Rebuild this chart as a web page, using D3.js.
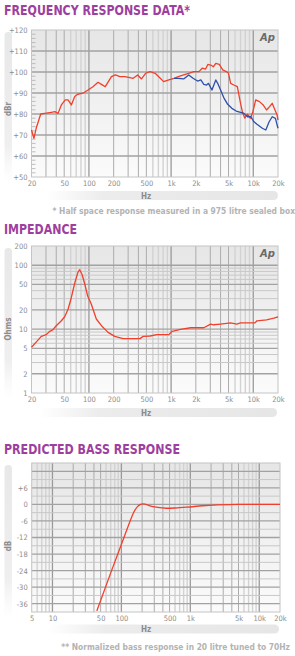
<!DOCTYPE html>
<html>
<head>
<meta charset="utf-8">
<script src="https://cdn.jsdelivr.net/npm/d3@7"></script>
<style>
  body { margin: 0; background: #fff; }
  svg text { font-family: "Liberation Sans Narrow", "DejaVu Sans Condensed", sans-serif; }
  .title { fill: #9d3f9e; font-weight: bold; font-size: 14px; }
  .note { fill: #b3b3b3; font-weight: bold; font-size: 8.4px; }
  .tick text { fill: #8c8c8c; font-size: 7.5px; }
  .logo { fill: #6a6a6a; font-weight: bold; font-style: italic; font-size: 10px; font-family: "DejaVu Sans", sans-serif; }
  .unit { fill: #8c8c8c; font-weight: bold; font-size: 8px; }
</style>
</head>
<body>
<svg id="page"></svg>
<script>
// ---- frequency response (dBr) ----
const respHz = [20, 21.4, 22.8, 25.9, 29, 34.9, 38.5, 42.1, 46.2, 51.5, 55.7, 61.1, 67.2, 73, 84.6, 97.5,
  112, 129, 142, 158, 188, 210, 238, 274, 315, 346, 392, 436, 490, 554, 640, 738, 812, 938, 1085, 1225,
  1420, 1640, 1890, 2180, 2390, 2630, 2800, 3030, 3270, 3500, 3860, 4250, 4700, 5000, 5300, 5800, 6400,
  7000, 7400, 7900, 8500, 9200, 9900, 10700, 11900, 13200, 14500, 15800, 17000, 18000, 19500, 20000];
const respRed = [72.4, 68.4, 73.2, 80, 80.3, 80.8, 81.1, 80.3, 84.3, 86.7, 86.7, 84.3, 88.3, 89.4, 89.9, 91.4,
  93, 95.1, 94.1, 93, 97.8, 98.6, 97.8, 97.8, 97.3, 97, 98.6, 96.7, 99.4, 100.2, 99.4, 97, 95.4, 96.2, 97, 97.8,
  98.6, 99.4, 100.2, 100.2, 101.8, 101.4, 103.6, 103.3, 102.5, 104.1, 103.6, 101, 100.2, 99.4, 94.6, 93.8, 93,
  85.1, 80.8, 78, 79.9, 78, 81.1, 86.7, 85.9, 84.3, 81.9, 83.5, 85.1, 82.7, 79.5, 77.1];
const blueHz = [1085, 1225, 1420, 1640, 1850, 2100, 2300, 2500, 2700, 2850, 3140, 3500, 3690, 4000, 4370,
  4880, 5490, 6200, 7000, 7700, 8500, 9300, 10200, 11100, 12900, 14200, 15600, 17000, 18600, 20000];
const respBlue = [97, 97, 96.7, 98.6, 97, 95.7, 96.2, 94.1, 93.8, 94.6, 91.4, 96.2, 94.6, 91.4, 87.8,
  84.6, 82.7, 81.4, 80.8, 80.3, 78.7, 78.7, 76.3, 75.1, 73.2, 72.4, 76.3, 78.7, 77.9, 73.2];
const respYTicks = [120, 110, 100, 90, 80, 70, 60, 50];

// ---- impedance (ohms) ----
const impHz = [20, 22.8, 26.3, 30.3, 33.3, 36.3, 40, 46.2, 50.7, 55.7, 61, 67.2, 73.6, 77.3, 82.7, 89.3, 96.5,
  107, 123, 142, 171, 206, 261, 330, 417, 458, 556, 670, 938, 1030, 1300, 1730, 2500, 3030, 3300, 3980,
  5300, 6300, 7000, 10500, 11100, 14500, 17800, 20000];
const impOhms = [5.2, 6.25, 7.7, 8.2, 9.25, 9.7, 11.3, 13.5, 15.6, 20.5, 31, 52.7, 78, 85, 71, 49.9, 32.9,
  24.5, 14.4, 11.3, 8.9, 7.7, 7.1, 7.1, 7.1, 7.7, 7.8, 8.2, 8.2, 9.25, 9.9, 10.5, 10.5, 12, 11.7, 12,
  12.5, 12, 12.5, 12.5, 13.5, 14, 14.9, 15.6];
const impYTicks = [200, 100, 50, 20, 10, 5, 2, 1];

// ---- predicted bass response (dB) ----
const bassHz = [44, 72, 109, 134, 150, 170, 190, 205, 225, 260, 320, 450, 600, 900, 1500, 2500, 5000, 20000];
const bassDb = [-38.6, -24, -12, -6, -3, -0.9, 0, 0.2, 0, -0.5, -1, -1.4, -1.3, -1, -0.5, -0.2, 0, 0];
const bassYTicks = [6, 0, -6, -12, -18, -24, -30, -36];

const xLabels = [20, 50, 100, 200, 500, 1000, 2000, 5000, 10000, 20000];
const bassXLabels = [5, 10, 50, 100, 500, 1000, 5000, 10000, 20000];

const RED = "#f0402c", BLUE = "#2d4fae";

const svg = d3.select("#page").attr("width", 295).attr("height", 656);
const defs = svg.append("defs");

const bg = defs.append("linearGradient").attr("id", "plotbg").attr("x1", 0).attr("y1", 0).attr("x2", 0).attr("y2", 1);
bg.append("stop").attr("offset", "0%").attr("stop-color", "#e6e6e6");
bg.append("stop").attr("offset", "100%").attr("stop-color", "#fbfbfb");

const hbar = defs.append("linearGradient").attr("id", "hbar");
hbar.append("stop").attr("offset", "0%").attr("stop-color", "#ececec").attr("stop-opacity", 0);
hbar.append("stop").attr("offset", "25%").attr("stop-color", "#ececec").attr("stop-opacity", 1);
hbar.append("stop").attr("offset", "100%").attr("stop-color", "#e6e6e6").attr("stop-opacity", 1);

const vbar = defs.append("linearGradient").attr("id", "vbar").attr("x1", 0).attr("y1", 0).attr("x2", 0).attr("y2", 1);
vbar.append("stop").attr("offset", "0%").attr("stop-color", "#e8e8e8").attr("stop-opacity", 1);
vbar.append("stop").attr("offset", "75%").attr("stop-color", "#efefef").attr("stop-opacity", 1);
vbar.append("stop").attr("offset", "100%").attr("stop-color", "#f4f4f4").attr("stop-opacity", 0);

function drawPanel(cfg) {
  const g = svg.append("g");
  const x = d3.scaleLog().domain(cfg.xDomain).range([cfg.left, cfg.right]);
  const y = (cfg.yLog ? d3.scaleLog() : d3.scaleLinear()).domain(cfg.yDomain).range([cfg.bottom, cfg.top]);

  g.append("text").attr("class", "title").attr("x", 4).attr("y", cfg.titleY)
    .attr("textLength", cfg.titleW).attr("lengthAdjust", "spacingAndGlyphs").text(cfg.title);

  // unit bars
  g.append("rect").attr("x", 4.5).attr("y", cfg.top + 2).attr("width", 7.5)
    .attr("height", cfg.bottom - cfg.top + 4).attr("rx", 3.5).attr("fill", "url(#vbar)");
  g.append("text").attr("class", "unit")
    .attr("transform", `translate(11,${cfg.unitY}) rotate(-90)`)
    .attr("text-anchor", "middle").text(cfg.yUnit);
  g.append("rect").attr("x", cfg.hzBar[0]).attr("y", cfg.hzY - 4.5)
    .attr("width", cfg.hzBar[1] - cfg.hzBar[0]).attr("height", 9).attr("rx", 4.5).attr("fill", "url(#hbar)");
  g.append("text").attr("class", "unit").attr("x", 146).attr("y", cfg.hzY + 3)
    .attr("text-anchor", "middle").text("Hz");

  g.append("rect").attr("x", cfg.left).attr("y", cfg.top)
    .attr("width", cfg.right - cfg.left).attr("height", cfg.bottom - cfg.top).attr("fill", "url(#plotbg)");

  // vertical grid
  const vLines = [];
  for (let dec = 1; dec <= 10000; dec *= 10) {
    for (let m = 1; m <= 9; m++) {
      const f = m * dec;
      if (f > cfg.xDomain[0] && f < cfg.xDomain[1]) vLines.push({ f, m });
    }
  }
  g.append("g").selectAll("line").data(vLines).join("line")
    .attr("x1", d => x(d.f)).attr("x2", d => x(d.f))
    .attr("y1", cfg.top).attr("y2", cfg.bottom)
    .attr("stroke", d => d.m === 1 ? "#9a9a9a" : (d.m <= 5 ? "#acacac" : "#d2d2d2"))
    .attr("stroke-width", d => d.m === 1 ? 1.3 : (d.m <= 5 ? 1 : 1.4));

  // horizontal grid
  g.append("g").selectAll("line").data(cfg.hLines).join("line")
    .attr("x1", cfg.left).attr("x2", cfg.right)
    .attr("y1", d => y(d.v)).attr("y2", d => y(d.v))
    .attr("stroke", d => d.major ? "#a2a2a2" : "#c8c8c8")
    .attr("stroke-width", d => d.major ? 1.3 : 1);

  if (cfg.minorTicks) {
    g.append("g").selectAll("line").data(cfg.minorTicks).join("line")
      .attr("x1", cfg.left).attr("x2", cfg.left + 4)
      .attr("y1", d => y(d)).attr("y2", d => y(d))
      .attr("stroke", "#b0b0b0").attr("stroke-width", 0.8);
  }

  g.append("rect").attr("x", cfg.left).attr("y", cfg.top)
    .attr("width", cfg.right - cfg.left).attr("height", cfg.bottom - cfg.top)
    .attr("fill", "none").attr("stroke", "#c4c4c4").attr("stroke-width", 1);

  // axes
  const xAxis = d3.axisBottom(x).tickValues(cfg.xTicks).tickSize(0).tickPadding(4)
    .tickFormat(d => d >= 1000 ? (d / 1000) + "k" : d);
  g.append("g").attr("transform", `translate(0,${cfg.bottom})`).call(xAxis)
    .call(a => a.select(".domain").remove());
  const yAxis = d3.axisLeft(y).tickValues(cfg.yTicks).tickSize(0).tickPadding(4).tickFormat(cfg.yFormat);
  g.append("g").attr("transform", `translate(${cfg.left},0)`).call(yAxis)
    .call(a => a.select(".domain").remove());

  if (cfg.logo) {
    g.append("text").attr("class", "logo").attr("x", cfg.right - 3).attr("y", cfg.top + 11)
      .attr("text-anchor", "end").text("Ap");
  }

  const line = d3.line().x(d => x(d[0])).y(d => y(d[1])).curve(cfg.curve || d3.curveLinear);
  cfg.series.forEach(s => {
    g.append("path").datum(d3.zip(s.hz, s.vals))
      .attr("d", line).attr("fill", "none")
      .attr("stroke", s.color).attr("stroke-width", 1.3).attr("stroke-linejoin", "round");
  });

  if (cfg.note) {
    g.append("text").attr("class", "note").attr("x", cfg.noteX).attr("y", cfg.noteY)
      .attr("text-anchor", "end").text(cfg.note);
  }
}

function logLines(lo, hi) {
  const out = [];
  for (let dec = 1; dec <= 100; dec *= 10) {
    for (let m = 1; m <= 9; m++) {
      const v = m * dec;
      if (v > lo && v < hi) out.push({ v, major: m === 1 || m === 2 || m === 5 });
    }
  }
  return out;
}

drawPanel({
  title: "FREQUENCY RESPONSE DATA*", titleY: 15, titleW: 186,
  left: 31.5, right: 278, top: 30, bottom: 177,
  xDomain: [20, 20000], yDomain: [50, 120],
  xTicks: xLabels, yTicks: respYTicks, yFormat: d => "+" + d,
  hLines: respYTicks.slice(1, -1).map(v => ({ v, major: true })),
  minorTicks: d3.range(52, 120, 2).filter(v => v % 10 !== 0),
  yUnit: "dBr", unitY: 109, hzY: 195.5, hzBar: [46, 278],
  logo: true,
  series: [{ hz: respHz, vals: respRed, color: RED }, { hz: blueHz, vals: respBlue, color: BLUE }],
  note: "* Half space response measured in a 975 litre sealed box", noteX: 295, noteY: 213.5
});

drawPanel({
  title: "IMPEDANCE", titleY: 234, titleW: 73,
  left: 31.5, right: 278, top: 246, bottom: 393,
  xDomain: [20, 20000], yDomain: [1, 200], yLog: true,
  xTicks: xLabels, yTicks: impYTicks, yFormat: d => d,
  hLines: logLines(1, 200),
  yUnit: "Ohms", unitY: 329, hzY: 412.5, hzBar: [40, 277],
  logo: true,
  series: [{ hz: impHz, vals: impOhms, color: RED }]
});

drawPanel({
  title: "PREDICTED BASS RESPONSE", titleY: 453.5, titleW: 176,
  left: 31.7, right: 280, top: 463, bottom: 612,
  xDomain: [5, 20000], yDomain: [-39, 15],
  xTicks: bassXLabels, yTicks: bassYTicks, yFormat: d => d > 0 ? "+" + d : d,
  hLines: d3.range(-36, 15, 3).map(v => ({ v, major: v % 6 === 0 })),
  yUnit: "dB", unitY: 546, hzY: 629, hzBar: [48, 279],
  logo: false, curve: d3.curveMonotoneX,
  series: [{ hz: bassHz, vals: bassDb, color: RED }],
  note: "** Normalized bass response in 20 litre tuned to 70Hz", noteX: 290, noteY: 650
});
</script>
</body>
</html>
